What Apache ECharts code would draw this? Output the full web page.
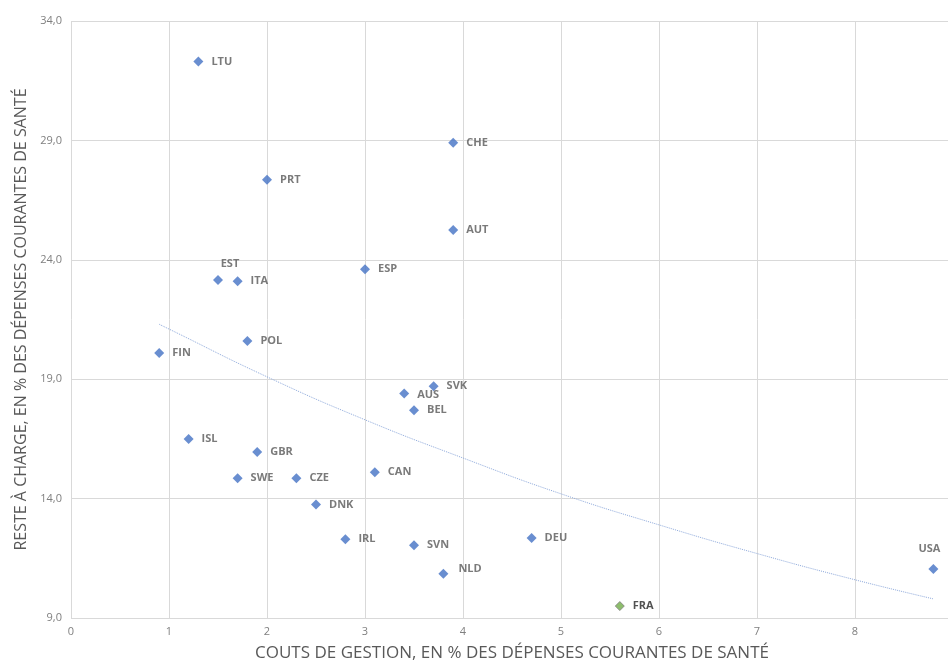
<!DOCTYPE html>
<html>
<head>
<meta charset="utf-8">
<script src="https://cdn.jsdelivr.net/npm/echarts@6/dist/echarts.min.js"></script>
<style>
  html, body { margin: 0; padding: 0; background: #fff; }
  #main { width: 948px; height: 663px; }
</style>
</head>
<body>
<div id="main"></div>
<script>
// pays (codes OCDE)
var pays = ['LTU', 'CHE', 'PRT', 'AUT', 'ESP', 'EST', 'ITA', 'POL', 'FIN', 'SVK', 'AUS', 'BEL',
    'ISL', 'GBR', 'CAN', 'SWE', 'CZE', 'DNK', 'IRL', 'DEU', 'SVN', 'NLD', 'FRA', 'USA'];
// couts de gestion, en % des dépenses courantes de santé
var couts = [1.3, 3.9, 2.0, 3.9, 3.0, 1.5, 1.7, 1.8, 0.9, 3.7, 3.4, 3.5,
    1.2, 1.9, 3.1, 1.7, 2.3, 2.5, 2.8, 4.7, 3.5, 3.8, 5.6, 8.8];
// reste à charge, en % des dépenses courantes de santé
var resteACharge = [32.3, 28.9, 27.35, 25.25, 23.6, 23.15, 23.1, 20.6, 20.1, 18.7, 18.4, 17.7,
    16.5, 15.95, 15.1, 14.85, 14.85, 13.75, 12.3, 12.35, 12.05, 10.85, 9.5, 11.05];

// courbe de tendance
var tendanceX = [0.9, 1, 2, 3, 4, 5, 6, 7, 8, 8.8];
var tendanceY = [21.3, 21.1, 19.1, 17.3, 15.7, 14.2, 12.9, 11.7, 10.6, 9.8];

var grisTexte = '#595959';

// quelques étiquettes ne sont pas à droite
var posLabel = {
    'EST': { position: 'top', offset: [12, 2] },
    'USA': { position: 'top', offset: [-4, -2] },
    'NLD': { position: 'right', offset: [2, -5] },
    'SVK': { position: 'right', offset: [0, -1] },
    'AUS': { position: 'right', offset: [0, 1] }
};

var pointsData = [];
for (var i = 0; i < pays.length; i++) {
    var item = { name: pays[i], value: [couts[i], resteACharge[i]] };
    if (posLabel[pays[i]]) {
        item.label = posLabel[pays[i]];
    }
    if (pays[i] == 'FRA') {
        item.itemStyle = { color: '#70AD47', borderColor: '#7f7f7f', borderWidth: 1 };
        item.label = { color: '#262626', fontWeight: 'bold' };
        item.symbolSize = 9;
    }
    pointsData.push(item);
}

var tendanceData = [];
for (var j = 0; j < tendanceX.length; j++) {
    tendanceData.push([tendanceX[j], tendanceY[j]]);
}

var myChart = echarts.init(document.getElementById('main'));

var option = {
    backgroundColor: '#ffffff',
    textStyle: { fontFamily: 'Open Sans, Noto Sans, sans-serif' },
    grid: {
        left: 71,
        right: -5,
        top: 21,
        bottom: 45,
        containLabel: false,
        outerBoundsMode: 'none'
    },
    xAxis: {
        type: 'value',
        min: 0,
        max: 9,
        interval: 1,
        name: 'COUTS DE GESTION, EN % DES DÉPENSES COURANTES DE SANTÉ',
        nameLocation: 'middle',
        nameGap: 27,
        nameTextStyle: { color: grisTexte, fontSize: 17 },
        axisLine: { show: false },
        axisTick: { show: false },
        axisLabel: {
            color: '#7f7f7f',
            fontSize: 11,
            margin: 8,
            showMaxLabel: false
        },
        splitLine: { show: true, lineStyle: { color: '#d9d9d9', width: 1 } }
    },
    yAxis: {
        type: 'value',
        min: 9,
        max: 34,
        interval: 5,
        name: 'RESTE À CHARGE, EN % DES DÉPENSES COURANTES DE SANTÉ',
        nameLocation: 'middle',
        nameGap: 41,
        nameTextStyle: { color: grisTexte, fontSize: 16 },
        axisLine: { show: false },
        axisTick: { show: false },
        axisLabel: {
            color: '#7f7f7f',
            fontSize: 11,
            margin: 9,
            formatter: function (v) { return v.toFixed(1).replace('.', ','); }
        },
        splitLine: { show: true, lineStyle: { color: '#d9d9d9', width: 1 } }
    },
    series: [
        {
            name: 'tendance',
            type: 'line',
            data: tendanceData,
            smooth: true,
            showSymbol: false,
            silent: true,
            lineStyle: { color: '#8faadc', width: 1, type: 'dotted' },
            z: 1
        },
        {
            name: 'pays',
            type: 'scatter',
            symbol: 'diamond',
            symbolSize: 10,
            data: pointsData,
            itemStyle: { color: '#4472c4' },
            label: {
                show: true,
                position: 'right',
                distance: 8,
                formatter: '{b}',
                color: grisTexte,
                fontSize: 11,
                fontWeight: 'bold'
            },
            z: 3
        }
    ]
};

myChart.setOption(option);
</script>
</body>
</html>
